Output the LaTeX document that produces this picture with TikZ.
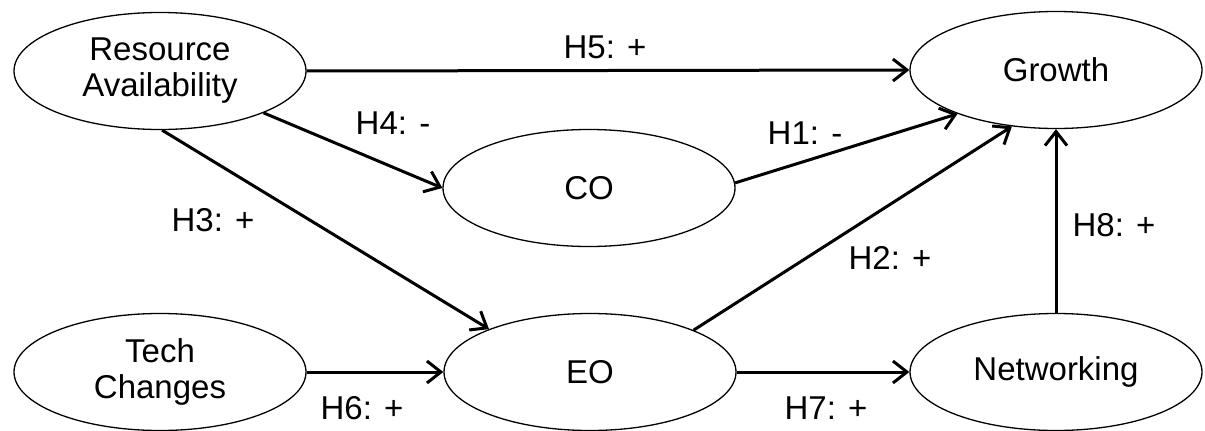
\documentclass[tikz,border=0pt]{standalone}
\usepackage{fontspec}
\setmainfont{Liberation Sans}
\usetikzlibrary{shapes.geometric,arrows.meta}
\begin{document}
\begin{tikzpicture}[x=1pt,y=-1pt,
  var/.style={ellipse,draw,line width=1.3pt,inner sep=0pt,minimum width=292pt,minimum height=117pt,
    align=center,font=\fontsize{33}{36}\selectfont},
  link/.style={line width=3pt,-{Straight Barb[length=14pt,width=22pt,line width=3pt]}},
  lbl/.style={font=\fontsize{33}{36}\selectfont,inner sep=0pt}]
\useasboundingbox (0,0) rectangle (1205,431);
\node[var] (RA) at (160,71) {Resource\\Availability};
\node[var] (G) at (1056,70) {Growth};
\node[var] (CO) at (589,188) {CO};
\node[var] (TC) at (160,372) {Tech\\Changes};
\node[var] (EO) at (590,372) {EO};
\node[var] (N) at (1056,372) {Networking};
\draw[link] (RA.east) -- (G.west);
\draw[link] (RA.-22) -- (CO.west);
\draw[link] (RA.-88) -- (EO.157);
\draw[link] (CO.2) -- (G.-156);
\draw[link] (EO.22) -- (G.-128);
\draw[link] (TC.east) -- (EO.west);
\draw[link] (EO.east) -- (N.west);
\draw[link] (N.north) -- (G.south);
\node[lbl] (l5) at (605,47) {H5: +};
\node[lbl] (l4) at (393,123) {H4: -};
\node[lbl] (l1) at (805,133) {H1: -};
\node[lbl] (l3) at (213,220) {H3: +};
\node[lbl] (l2) at (890,258) {H2: +};
\node[lbl] (l8) at (1114,225) {H8: +};
\node[lbl] (l6) at (362,408) {H6: +};
\node[lbl] (l7) at (826,408) {H7: +};
\end{tikzpicture}
\end{document}
